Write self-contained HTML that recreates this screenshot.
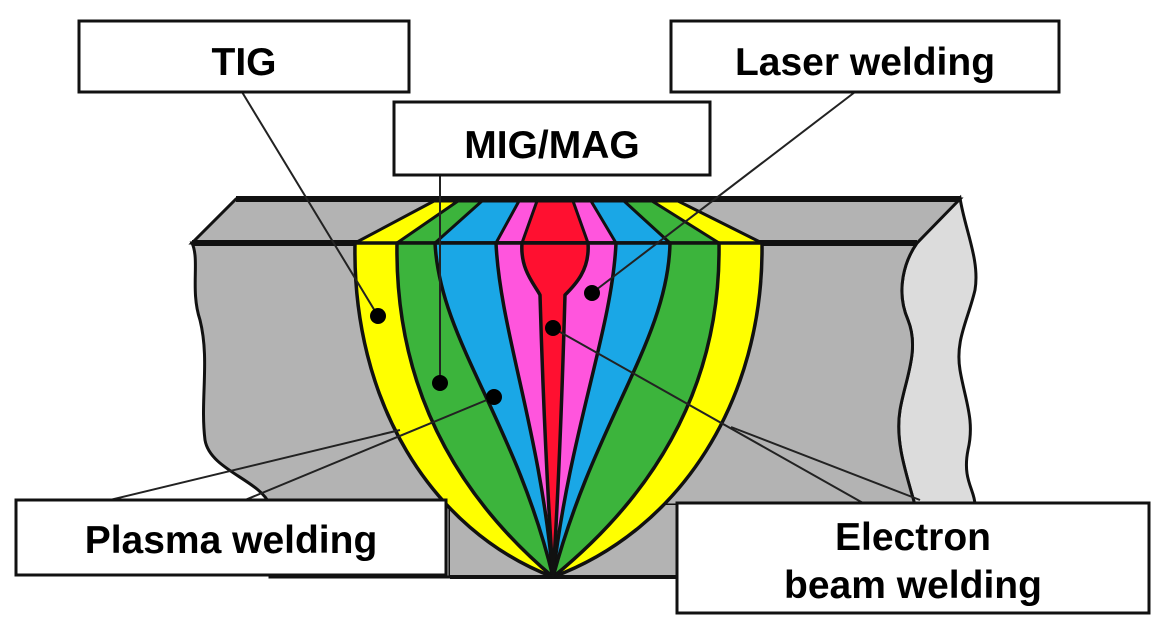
<!DOCTYPE html>
<html><head><meta charset="utf-8"><style>
html,body{margin:0;padding:0;background:#fff;}
svg{display:block}
text{font-family:"Liberation Sans",Arial,sans-serif;font-weight:bold;fill:#000}
</style></head><body>
<svg width="1174" height="637" viewBox="0 0 1174 637">
<path d="M917,243 L960,198 C965,230 980,260 975,290 C968,320 955,340 960,370 C965,400 975,420 968,450 C962,480 975,490 975,505 L915,505 C905,470 895,440 900,410 C905,380 920,350 908,320 C895,290 905,260 917,243 Z" fill="#dcdcdc" stroke="#111" stroke-width="3"/>
<path d="M236,199 L960,199 L917,243 L192,243 Z" fill="#b3b3b3" stroke="#111" stroke-width="3"/>
<path d="M236,199 L960,199" stroke="#111" stroke-width="6"/>
<path d="M192,243 L917,243 C905,260 895,290 908,320 C920,350 905,380 900,410 C895,440 905,470 915,505 L450,505 L450,577 L270,577 L270,505 C260,480 210,470 205,440 C200,400 210,360 200,320 C190,290 200,260 192,243 Z" fill="#b3b3b3" stroke="#111" stroke-width="3"/>
<path d="M192,243 L917,243" stroke="#111" stroke-width="6"/>
<rect x="450" y="505" width="228" height="72" fill="#b3b3b3"/>
<path d="M450,577 L680,577" stroke="#111" stroke-width="4"/>
<g stroke="#111" stroke-width="3" stroke-linejoin="round">
<path d="M355,243 L434,201 L678,201 L762,243 Z" fill="#ffff00"/>
<path d="M397,243 L458,201 L652,201 L719,243 Z" fill="#3cb43c"/>
<path d="M435,243 L482,201 L624,201 L670,243 Z" fill="#1aa7e6"/>
<path d="M496,243 L519,201 L591,201 L616,243 Z" fill="#ff55dd"/>
<path d="M522,243 L537,201 L573,201 L588,243 Z" fill="#ff1030"/>
</g>
<g stroke="#111" stroke-width="3.5" stroke-linejoin="round">
<path d="M355,243 C352,400 430,530 553,577 C680,530 764,400 762,243 Z" fill="#ffff00"/>
<path d="M397,243 C395,380 450,490 553,577 C660,490 721,380 719,243 Z" fill="#3cb43c"/>
<path d="M435,243 C440,340 515,420 553,577 C595,420 668,340 670,243 Z" fill="#1aa7e6"/>
<path d="M496,243 C500,330 540,430 553,577 C570,430 612,330 616,243 Z" fill="#ff55dd"/>
<path d="M522,243 C520,270 535,285 540,295 C543,400 548,500 553,577 C558,500 562,400 565,295 C575,285 590,270 588,243 Z" fill="#ff1030"/>
</g>
<g stroke="#222" stroke-width="2" fill="none">
<line x1="242" y1="92" x2="378" y2="316"/>
<line x1="440" y1="175" x2="440" y2="383"/>
<line x1="855" y1="92" x2="592" y2="293"/>
<line x1="245" y1="500" x2="494" y2="397"/>
<line x1="110" y1="500" x2="400" y2="430"/>
<line x1="863" y1="503" x2="553" y2="328"/>
<line x1="920" y1="500" x2="731" y2="427"/>
</g>
<g fill="#000">
<circle cx="378" cy="316" r="8"/><circle cx="440" cy="383" r="8"/><circle cx="494" cy="397" r="8"/>
<circle cx="553" cy="328" r="8"/><circle cx="592" cy="293" r="8"/>
</g>
<g fill="#fff" stroke="#111" stroke-width="3">
<rect x="79" y="21" width="330" height="71"/>
<rect x="671" y="21" width="388" height="71"/>
<rect x="394" y="102" width="316" height="73"/>
<rect x="16" y="500" width="430" height="75"/>
<rect x="677" y="503" width="472" height="110"/>
</g>
<text x="244" y="75" font-size="39" text-anchor="middle">TIG</text>
<text x="865" y="75" font-size="39" text-anchor="middle">Laser welding</text>
<text x="552" y="158" font-size="39" text-anchor="middle">MIG/MAG</text>
<text x="231" y="553" font-size="39" text-anchor="middle">Plasma welding</text>
<text x="913" y="550" font-size="39" text-anchor="middle">Electron</text>
<text x="913" y="598" font-size="39" text-anchor="middle">beam welding</text>
</svg>
</body></html>
